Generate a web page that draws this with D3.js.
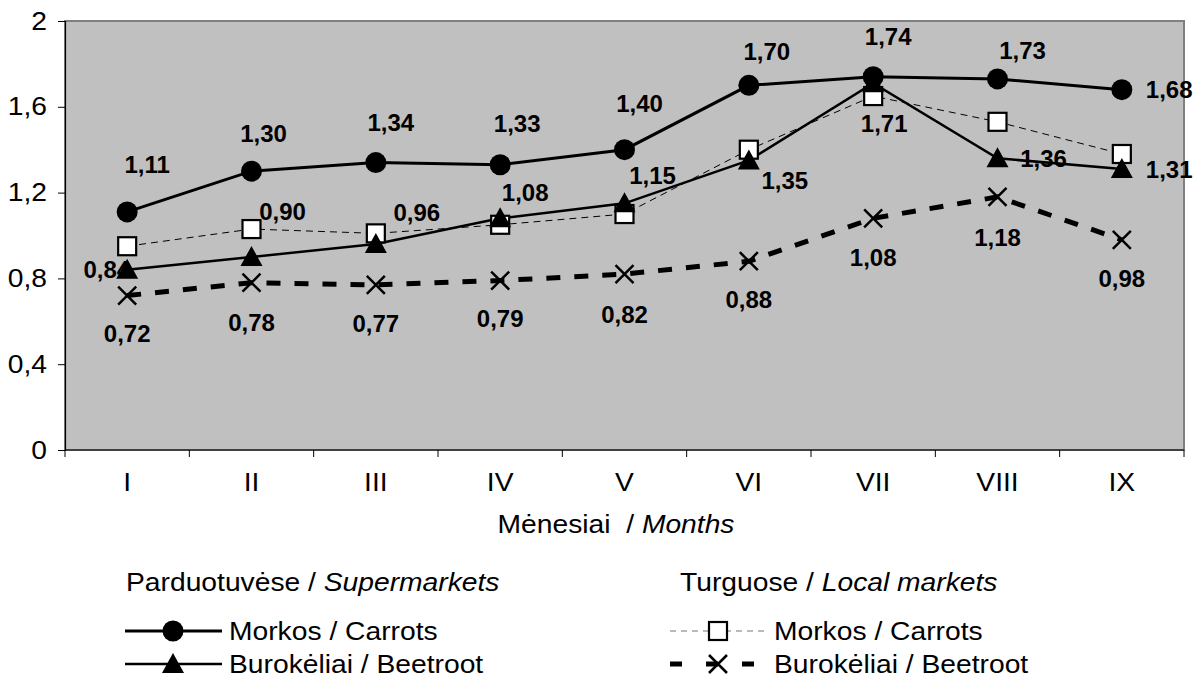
<!DOCTYPE html>
<html>
<head>
<meta charset="utf-8">
<script src="https://cdn.jsdelivr.net/npm/d3@7"></script>
<style>
  body { margin: 0; background: #fff; }
  svg { display: block; font-family: Arial, "Liberation Sans", sans-serif; }
</style>
</head>
<body>
<svg id="chart" width="1194" height="679"></svg>
<script>
var months = ['I', 'II', 'III', 'IV', 'V', 'VI', 'VII', 'VIII', 'IX'];
var yTicks = [0, 0.4, 0.8, 1.2, 1.6, 2];

// Parduotuvėse / Supermarkets
var superCarrots = [1.11, 1.30, 1.34, 1.33, 1.40, 1.70, 1.74, 1.73, 1.68];
var superBeetroot = [0.84, 0.90, 0.96, 1.08, 1.15, 1.35, 1.71, 1.36, 1.31];
// Turguose / Local markets
var localCarrots = [0.95, 1.03, 1.01, 1.05, 1.10, 1.40, 1.65, 1.53, 1.38];
var localBeetroot = [0.72, 0.78, 0.77, 0.79, 0.82, 0.88, 1.08, 1.18, 0.98];

// label placement (offset from point), styling only
var superCarrotsLabelPos = [[20,-48],[12,-38],[15,-40],[17,-41],[15,-46],[18,-34],[15,-40],[25,-29],[24,0,'start']];
var superBeetrootLabelPos = [[3,0,'end'],[31,-46],[41,-32],[25,-26],[28,-28],[36,20],[11,40],[46,0],[24,0,'start']];
var localBeetrootLabelPos = [[0,38],[0,40],[0,39],[0,38],[0,40],[0,38],[0,39],[0,40],[0,39]];

// the source text is drawn a little wide
function stretch(sel) {
  sel.each(function() {
    var t = d3.select(this),
        tx = +t.attr('x') || 0,
        ty = +t.attr('y') || 0;
    t.attr('x', 0).attr('y', 0)
      .attr('transform', 'translate(' + tx + ',' + ty + ') scale(1.13,1)');
  });
}

(function draw() {
  var svg = d3.select('#chart'),
      margin = { top: 21, right: 10, bottom: 229, left: 65 },
      width = +svg.attr('width') - margin.left - margin.right,
      height = +svg.attr('height') - margin.top - margin.bottom,
      g = svg.append('g').attr('transform', 'translate(' + margin.left + ',' + margin.top + ')');

  var x = d3.scaleBand().domain(months).range([0, width]).padding(0);
  var y = d3.scaleLinear().domain([0, 2]).range([height, 0]);
  var cx = function(i) { return x(months[i]) + x.bandwidth() / 2; };
  var fmt = function(v) { return d3.format('.2f')(v).replace('.', ','); };

  g.append('rect')
      .attr('width', width)
      .attr('height', height)
      .attr('fill', '#c0c0c0')
      .attr('stroke', '#808080')
      .attr('stroke-width', 2);

  var yAxis = g.append('g')
      .call(d3.axisLeft(y).tickValues(yTicks).tickSize(7).tickPadding(11)
        .tickFormat(function(d) { return d3.format('.1~f')(d).replace('.', ','); }));
  yAxis.select('.domain').attr('stroke', '#000').attr('stroke-width', 1.2);
  yAxis.selectAll('.tick line').attr('stroke', '#000');
  yAxis.selectAll('text').attr('font-size', 25).attr('font-family', 'Arial, "Liberation Sans", sans-serif').attr('fill', '#000')
      .call(stretch);

  var xAxis = g.append('g')
      .attr('transform', 'translate(0,' + height + ')');
  xAxis.append('line')
      .attr('x1', 0).attr('x2', width)
      .attr('stroke', '#000').attr('stroke-width', 1.2);
  xAxis.selectAll('line.tk')
      .data(d3.range(months.length + 1))
      .enter().append('line')
        .attr('class', 'tk')
        .attr('x1', function(i) { return i * x.bandwidth(); })
        .attr('x2', function(i) { return i * x.bandwidth(); })
        .attr('y1', 0).attr('y2', 7)
        .attr('stroke', '#000');
  xAxis.selectAll('text')
      .data(months)
      .enter().append('text')
        .attr('x', function(d) { return x(d) + x.bandwidth() / 2; })
        .attr('y', 41)
        .attr('text-anchor', 'middle')
        .attr('font-size', 25)
        .text(function(d) { return d; })
        .call(stretch);

  var title = svg.append('text')
      .attr('x', 616)
      .attr('y', 533)
      .attr('text-anchor', 'middle')
      .attr('font-size', 25)
      .attr('xml:space', 'preserve');
  title.append('tspan').text('Mėnesiai  / ');
  title.append('tspan').attr('font-style', 'italic').text('Months');
  title.call(stretch);

  var line = function(vals) {
    return d3.line().x(function(d, i) { return cx(i); }).y(function(d) { return y(d); })(vals);
  };

  var series = [
    { vals: localBeetroot, width: 5, dash: '14,14', marker: 'x', labels: localBeetrootLabelPos },
    { vals: localCarrots, width: 1, dash: '7,5', marker: 'square', labels: null },
    { vals: superBeetroot, width: 2.5, dash: null, marker: 'triangle', labels: superBeetrootLabelPos },
    { vals: superCarrots, width: 3, dash: null, marker: 'circle', labels: superCarrotsLabelPos }
  ];

  function addMarker(sel, type) {
    if (type === 'circle') {
      sel.append('circle').attr('r', 10.5).attr('fill', '#000');
    } else if (type === 'triangle') {
      sel.append('path').attr('d', 'M0,-11L11,9L-11,9Z').attr('fill', '#000');
    } else if (type === 'square') {
      sel.append('rect').attr('x', -9).attr('y', -9).attr('width', 18).attr('height', 18)
        .attr('fill', '#fff').attr('stroke', '#000').attr('stroke-width', 2.2);
    } else if (type === 'x') {
      sel.append('path').attr('d', 'M-9,-9L9,9M-9,9L9,-9')
        .attr('stroke', '#000').attr('stroke-width', 2.5).attr('fill', 'none');
    }
  }

  series.forEach(function(s) {
    g.append('path')
        .attr('d', line(s.vals))
        .attr('fill', 'none')
        .attr('stroke', '#000')
        .attr('stroke-width', s.width)
        .attr('stroke-dasharray', s.dash);
  });

  series.forEach(function(s) {
    if (!s.labels) return;
    g.append('g').selectAll('text')
        .data(s.vals)
        .enter().append('text')
          .attr('x', function(d, i) { return cx(i) + s.labels[i][0]; })
          .attr('y', function(d, i) { return y(d) + s.labels[i][1]; })
          .attr('dy', '0.36em')
          .attr('text-anchor', function(d, i) { return s.labels[i][2] || 'middle'; })
          .attr('font-size', 24)
          .attr('font-weight', 'bold')
          .text(fmt);
  });

  series.forEach(function(s) {
    g.append('g').selectAll('g')
        .data(s.vals)
        .enter().append('g')
          .attr('transform', function(d, i) { return 'translate(' + cx(i) + ',' + y(d) + ')'; })
          .each(function() { addMarker(d3.select(this), s.marker); });
  });

  // legend
  var legend = svg.append('g').attr('font-size', 25);
  var h1 = legend.append('text').attr('x', 126).attr('y', 591);
  h1.append('tspan').text('Parduotuvėse / ');
  h1.append('tspan').attr('font-style', 'italic').text('Supermarkets');
  var h2 = legend.append('text').attr('x', 680).attr('y', 591);
  h2.append('tspan').text('Turguose / ');
  h2.append('tspan').attr('font-style', 'italic').text('Local markets');
  h1.call(stretch);
  h2.call(stretch);

  var legendItems = [
    { x: 125, y: 631, s: series[3], name: 'Morkos / Carrots' },
    { x: 125, y: 664, s: series[2], name: 'Burokėliai / Beetroot' },
    { x: 670, y: 631, s: series[1], name: 'Morkos / Carrots' },
    { x: 670, y: 664, s: series[0], name: 'Burokėliai / Beetroot' }
  ];
  legendItems.forEach(function(d) {
    var it = legend.append('g').attr('transform', 'translate(' + d.x + ',' + d.y + ')');
    it.append('line')
        .attr('x1', 0).attr('x2', 97)
        .attr('stroke', d.s.dash && d.s.width < 2 ? '#777' : '#000')
        .attr('stroke-width', d.s.width)
        .attr('stroke-dasharray', d.s.width > 4 ? '12,24' : (d.s.dash ? '6,5' : null));
    var m = it.append('g').attr('transform', 'translate(48,0)');
    addMarker(m, d.s.marker);
    it.append('text').attr('x', 104).attr('y', 0).attr('dy', '0.36em').text(d.name).call(stretch);
  });
})();
</script>
</body>
</html>
